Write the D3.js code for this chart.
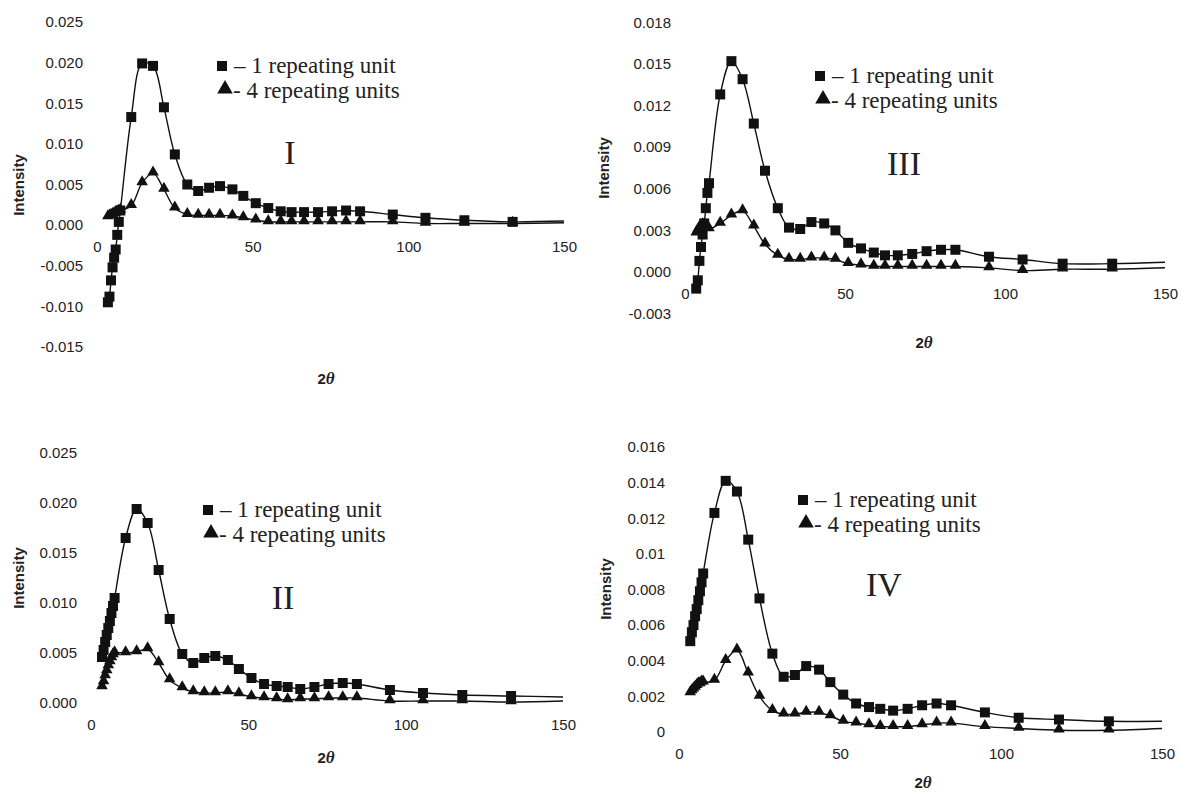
<!DOCTYPE html>
<html>
<head>
<meta charset="utf-8">
<script src="https://cdn.jsdelivr.net/npm/d3@7"></script>
<style>
  html, body { margin: 0; padding: 0; background: #fff; }
  svg { display: block; }
  .tick text { font-family: "Liberation Sans", Arial, sans-serif; font-size: 15px; fill: #222; }
</style>
</head>
<body>
<svg id="chart" width="1182" height="794"></svg>
<script>
// ---- data ----
const twoTheta = [3.5,4,4.5,5,5.5,6,6.5,7,7.5,11,14.5,18,21.5,25,29,32.5,36,39.5,43.5,47,51,55,59,62.5,66.5,71,75.5,80,84.5,95,105.5,118,133.5,150];

const oneUnitI   = [-0.0095,-0.0088,-0.0068,-0.0052,-0.0040,-0.0030,-0.0012,0.0004,0.0018,0.0133,0.0199,0.0196,0.0145,0.0087,0.0050,0.0042,0.0046,0.0048,0.0044,0.0036,0.0027,0.0021,0.0017,0.0016,0.0016,0.0016,0.0017,0.0018,0.0017,0.0013,0.0009,0.0006,0.0004,0.0005];
const fourUnitsI = [0.0010,0.0011,0.0012,0.0013,0.0014,0.0015,0.0016,0.0017,0.0018,0.0024,0.0052,0.0064,0.0044,0.0021,0.0013,0.0012,0.0012,0.0012,0.0011,0.0009,0.0006,0.0004,0.0004,0.0004,0.0004,0.0004,0.0004,0.0004,0.0004,0.0004,0.0002,0.0002,0.0002,0.0003];

const oneUnitII   = [0.0046,0.0053,0.0061,0.0068,0.0075,0.0082,0.0090,0.0097,0.0105,0.0165,0.0194,0.0180,0.0133,0.0084,0.0049,0.0040,0.0045,0.0047,0.0043,0.0034,0.0025,0.0019,0.0017,0.0016,0.0014,0.0016,0.0019,0.0020,0.0019,0.0013,0.0010,0.0008,0.0007,0.0006];
const fourUnitsII = [0.0016,0.0021,0.0027,0.0032,0.0037,0.0041,0.0045,0.0048,0.0050,0.0050,0.0051,0.0054,0.0040,0.0023,0.0015,0.0011,0.0010,0.0010,0.0011,0.0009,0.0006,0.0005,0.0004,0.0003,0.0004,0.0004,0.0005,0.0005,0.0005,0.0002,0.0002,0.0002,0.0001,0.0002];

const oneUnitIII   = [-0.0012,-0.0006,0.0008,0.0018,0.0027,0.0035,0.0046,0.0057,0.0064,0.0128,0.0152,0.0139,0.0107,0.0073,0.0046,0.0032,0.0031,0.0036,0.0035,0.0030,0.0021,0.0017,0.0014,0.0012,0.0012,0.0013,0.0015,0.0016,0.0016,0.0011,0.0009,0.0006,0.0006,0.0007];
const fourUnitsIII = [0.0028,0.0030,0.0032,0.0033,0.0034,0.0034,0.0033,0.0032,0.0031,0.0035,0.0041,0.0044,0.0033,0.0020,0.0012,0.0009,0.0009,0.0010,0.0010,0.0009,0.0006,0.0005,0.0004,0.0004,0.0004,0.0004,0.0004,0.0004,0.0004,0.0003,0.0001,0.0002,0.0002,0.0003];

const oneUnitIV   = [0.0051,0.0056,0.0060,0.0065,0.0069,0.0074,0.0079,0.0084,0.0089,0.0123,0.0141,0.0135,0.0108,0.0075,0.0044,0.0031,0.0032,0.0037,0.0035,0.0028,0.0021,0.0016,0.0014,0.0013,0.0012,0.0013,0.0015,0.0016,0.0015,0.0011,0.0008,0.0007,0.0006,0.0006];
const fourUnitsIV = [0.0022,0.0023,0.0024,0.0025,0.0026,0.0027,0.0027,0.0028,0.0028,0.0029,0.0040,0.0046,0.0033,0.0020,0.0012,0.0010,0.0010,0.0011,0.0011,0.0009,0.0006,0.0005,0.0004,0.0003,0.0003,0.0003,0.0004,0.0005,0.0005,0.0003,0.0002,0.0001,0.0001,0.0002];

const xTicks = [0, 50, 100, 150];
const yTicksI   = [-0.015,-0.010,-0.005,0.000,0.005,0.010,0.015,0.020,0.025];
const yTicksII  = [0.000,0.005,0.010,0.015,0.020,0.025];
const yTicksIII = [-0.003,0.000,0.003,0.006,0.009,0.012,0.015,0.018];
const yTicksIV  = [0,0.002,0.004,0.006,0.008,0.010,0.012,0.014,0.016];
const yLabelsIV = ["0","0.002","0.004","0.006","0.008","0.01","0.012","0.014","0.016"];

const legendLabels = ["\u2013 1 repeating unit", "- 4 repeating units"];
const panelNames = ["I", "II", "III", "IV"];
const yTitle = "Intensity";

// ---- layout ----
const fmt3 = d => d3.format(".3f")(d).replace("\u2212", "-");
const panels = [
  { name: panelNames[0], one: oneUnitI, four: fourUnitsI, yTicks: yTicksI, yFmt: fmt3,
    xr: [97, 564], ydom: [-0.015, 0.025], yr: [347, 22],
    leg: [222, 66], roman: [290, 152], ytitle: [18, 185], xtitle: [326, 378] },
  { name: panelNames[1], one: oneUnitII, four: fourUnitsII, yTicks: yTicksII, yFmt: fmt3,
    xr: [91, 563], ydom: [0, 0.025], yr: [703, 453],
    leg: [208, 510], roman: [283, 597], ytitle: [18, 578], xtitle: [326, 757] },
  { name: panelNames[2], one: oneUnitIII, four: fourUnitsIII, yTicks: yTicksIII, yFmt: fmt3,
    xr: [685, 1165], ydom: [-0.003, 0.018], yr: [313.6, 22.3],
    leg: [820, 76], roman: [904, 163], ytitle: [603, 168], xtitle: [924, 342] },
  { name: panelNames[3], one: oneUnitIV, four: fourUnitsIV, yTicks: yTicksIV, yFmt: (d, i) => yLabelsIV[i],
    xr: [679, 1162], ydom: [0, 0.016], yr: [732, 447],
    leg: [803, 500], roman: [884, 584], ytitle: [605, 589], xtitle: [923, 782] }
];

const svg = d3.select("#chart");
const sqSym = d3.symbol().type(d3.symbolSquare).size(100);
const triSym = d3.symbol().type(d3.symbolTriangle).size(58);
const legSq = d3.symbol().type(d3.symbolSquare).size(100);
const legTri = d3.symbol().type(d3.symbolTriangle).size(105);
const serif = "'Liberation Serif', 'Times New Roman', serif";

panels.forEach(p => {
  const g = svg.append("g");
  const x = d3.scaleLinear().domain([0, 150]).range(p.xr);
  const y = d3.scaleLinear().domain(p.ydom).range(p.yr);

  // y axis (labels only)
  const yAxis = d3.axisLeft(y).tickValues(p.yTicks).tickFormat(p.yFmt).tickSize(0).tickPadding(14);
  const ya = g.append("g").attr("transform", `translate(${p.xr[0]},0)`).call(yAxis);
  ya.select(".domain").remove();

  // x axis at y=0 (labels only)
  const xAxis = d3.axisBottom(x).tickValues(xTicks).tickFormat(d3.format("d")).tickSize(0).tickPadding(16);
  const xa = g.append("g").attr("transform", `translate(0,${y(0)})`).call(xAxis);
  xa.select(".domain").remove();

  const pts = (vals) => twoTheta.map((t, i) => ({ t, v: vals[i] }));
  const line = d3.line().x(d => x(d.t)).y(d => y(d.v)).curve(d3.curveCatmullRom.alpha(0.5));

  [p.one, p.four].forEach(vals => {
    g.append("path").datum(pts(vals)).attr("d", line)
      .attr("fill", "none").attr("stroke", "#111").attr("stroke-width", 1.4);
  });

  // markers (the 150 endpoint has none)
  g.selectAll(".sq").data(pts(p.one).filter(d => d.t < 150)).join("path")
    .attr("d", sqSym).attr("fill", "#111")
    .attr("transform", d => `translate(${x(d.t)},${y(d.v)})`);
  g.selectAll(".tri").data(pts(p.four).filter(d => d.t < 150)).join("path")
    .attr("d", triSym).attr("fill", "#111")
    .attr("transform", d => `translate(${x(d.t)},${y(d.v) - 1})`);

  // legend
  const [lx, ly] = p.leg;
  g.append("path").attr("d", legSq).attr("fill", "#111").attr("transform", `translate(${lx},${ly})`);
  g.append("text").attr("x", lx + 12).attr("y", ly + 7)
    .attr("font-family", serif).attr("font-size", 23).attr("fill", "#222")
    .text(legendLabels[0]);
  g.append("path").attr("d", legTri).attr("fill", "#111").attr("transform", `translate(${lx + 3},${ly + 23})`);
  g.append("text").attr("x", lx + 11).attr("y", ly + 32)
    .attr("font-family", serif).attr("font-size", 23).attr("fill", "#222")
    .text(legendLabels[1]);

  // roman numeral
  g.append("text").attr("x", p.roman[0]).attr("y", p.roman[1]).attr("text-anchor", "middle")
    .attr("dominant-baseline", "central")
    .attr("font-family", serif).attr("font-size", 34).attr("fill", "#222")
    .text(p.name);

  // y title
  g.append("text").attr("transform", `translate(${p.ytitle[0]},${p.ytitle[1]}) rotate(-90)`)
    .attr("text-anchor", "middle").attr("dominant-baseline", "central")
    .attr("font-family", "'Liberation Sans', Arial, sans-serif").attr("font-weight", "bold").attr("font-size", 15)
    .attr("fill", "#222").text(yTitle);

  // x title
  const xt = g.append("text").attr("x", p.xtitle[0]).attr("y", p.xtitle[1]).attr("text-anchor", "middle")
    .attr("dominant-baseline", "central")
    .attr("font-family", serif).attr("font-weight", "bold").attr("font-size", 17)
    .attr("fill", "#222");
  xt.append("tspan").attr("font-family", "'Liberation Sans', Arial, sans-serif").attr("font-size", 15).text("2");
  xt.append("tspan").attr("font-style", "italic").text("\u03b8");
});
</script>
</body>
</html>
